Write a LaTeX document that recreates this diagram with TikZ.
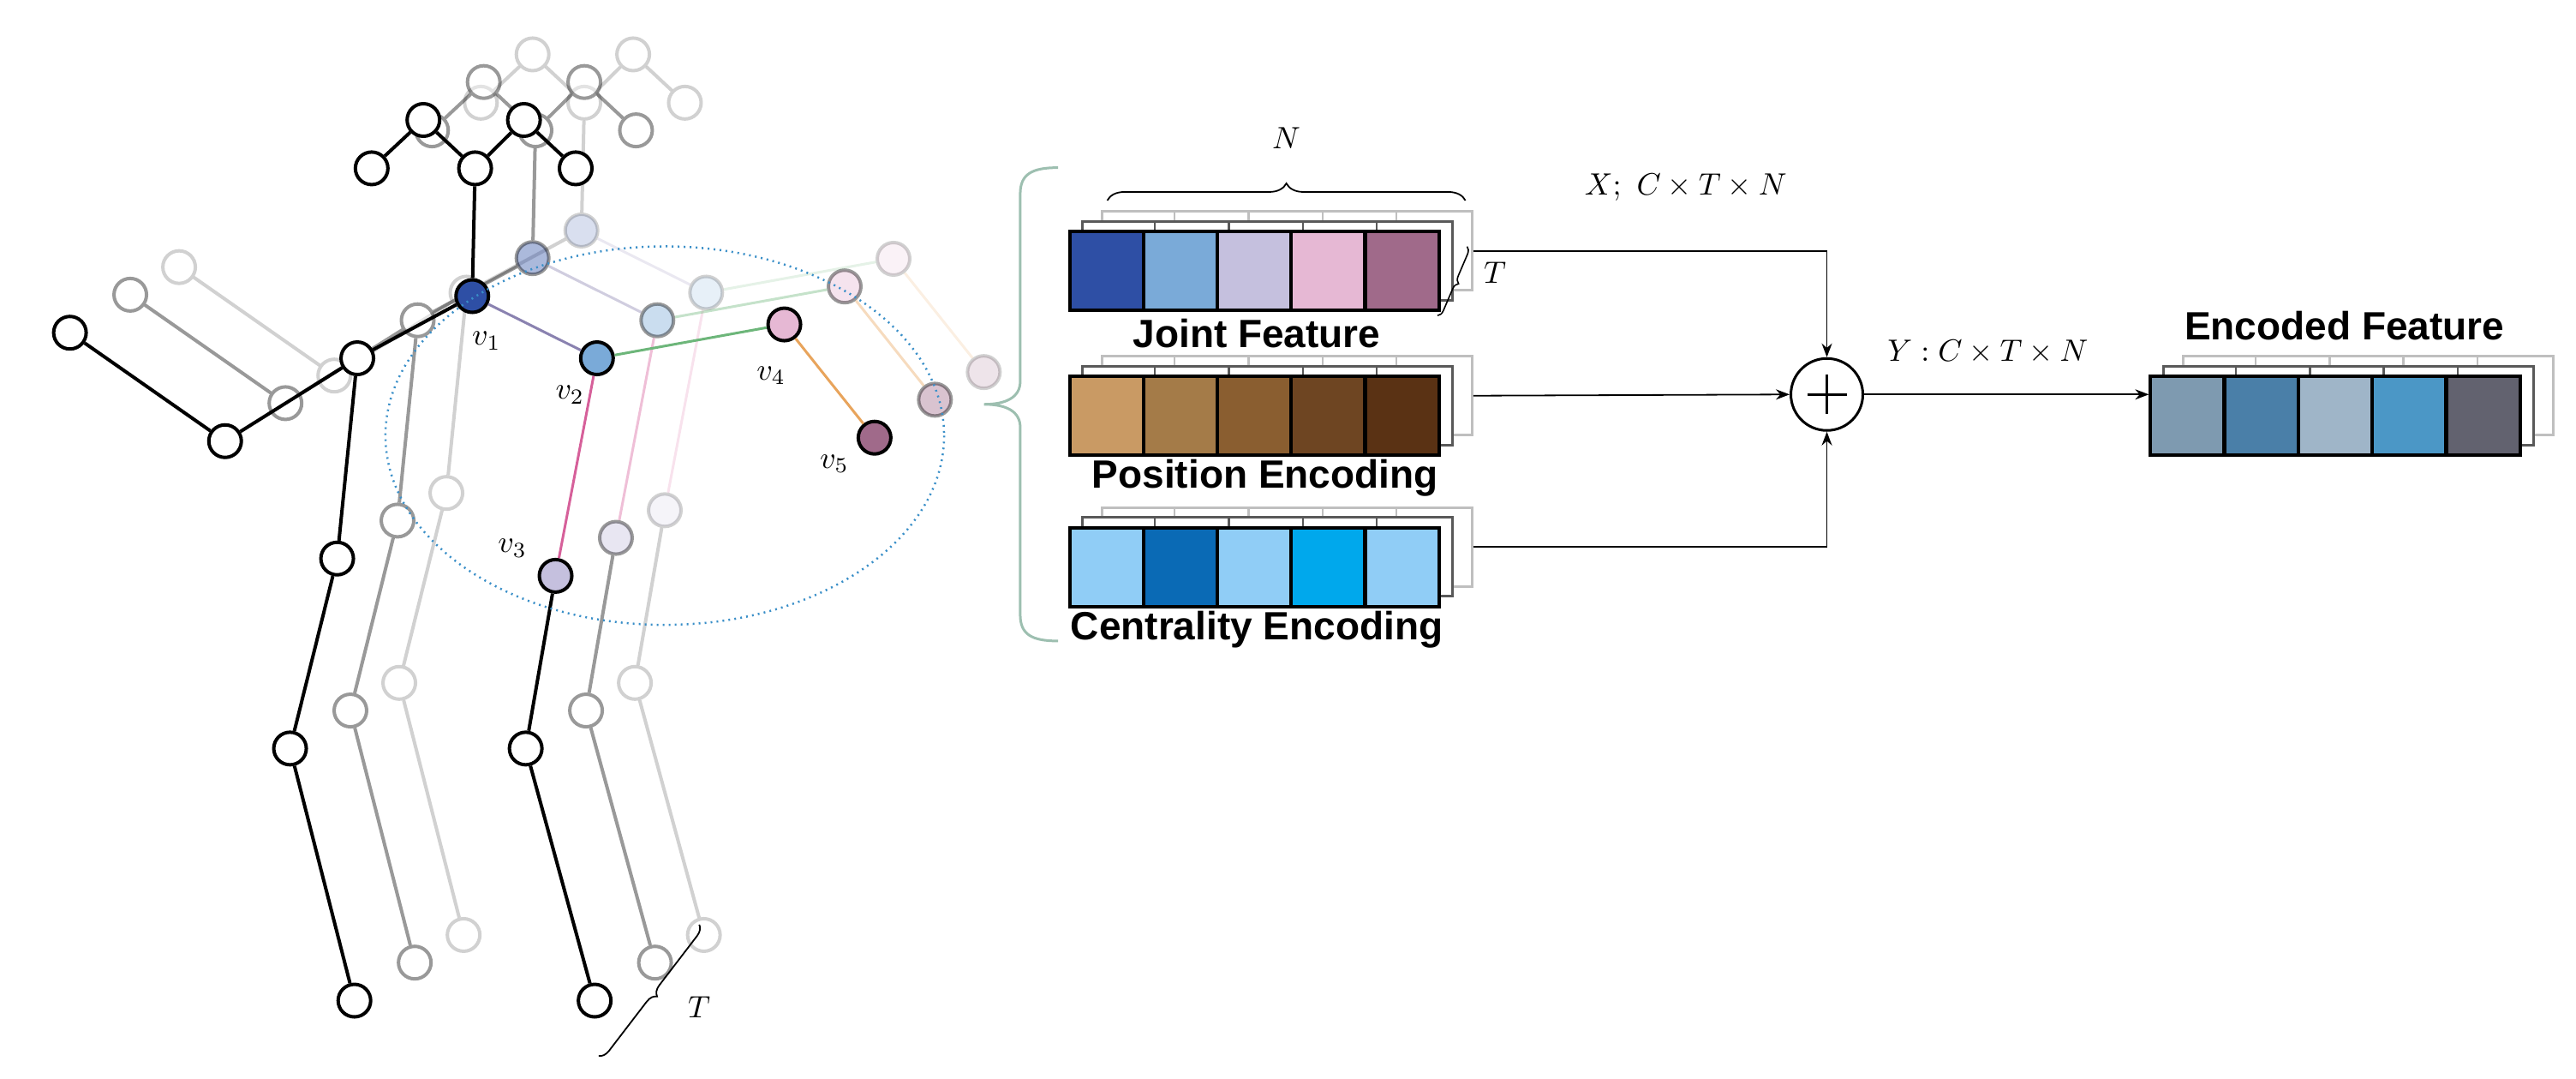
\documentclass[tikz,border=0pt]{standalone}
\usepackage{fontspec}
\newfontfamily\lab{Liberation Sans}
\usetikzlibrary{decorations.pathreplacing,arrows.meta,calc}
\definecolor{jA}{HTML}{2E4FA5}\definecolor{jB}{HTML}{7AAAD8}\definecolor{jC}{HTML}{C5C0DE}\definecolor{jD}{HTML}{E6B8D4}\definecolor{jE}{HTML}{A06A8A}
\definecolor{pA}{HTML}{C99A64}\definecolor{pB}{HTML}{A47B48}\definecolor{pC}{HTML}{8A5E30}\definecolor{pD}{HTML}{6E4522}\definecolor{pE}{HTML}{5A3214}
\definecolor{cA}{HTML}{90CDF6}\definecolor{cB}{HTML}{0A6AB5}\definecolor{cD}{HTML}{00A8EC}
\definecolor{eA}{HTML}{7E9AB0}\definecolor{eB}{HTML}{4A7FA8}\definecolor{eC}{HTML}{9FB5C8}\definecolor{eD}{HTML}{4B97C6}\definecolor{eE}{HTML}{62626F}
\definecolor{ve1}{HTML}{8A82B0}\definecolor{ve2}{HTML}{D6609A}\definecolor{ve3}{HTML}{6DB67A}\definecolor{ve4}{HTML}{E8A45C}
\definecolor{brc}{HTML}{9DBFB0}\definecolor{ell}{HTML}{3A8FC8}
\tikzset{
 jt/.style={circle,draw=black,fill=white,line width=4pt,minimum size=38pt,inner sep=0pt},
 bone/.style={line width=4pt},
 cell/.style={draw=black,line width=4pt,minimum width=86pt,minimum height=92pt,anchor=north west,inner sep=0pt},
 back/.style={draw,fill=white,line width=3pt,minimum width=432pt,minimum height=92pt,anchor=north west,inner sep=0pt},
 lbl/.style={font=\lab\bfseries\fontsize{46}{50}\selectfont},
 mth/.style={scale=3.6},
 conn/.style={line width=1.8pt,-{Stealth[length=16pt,width=12pt]}},
}
\newcommand\myskel[4]{%
\begin{scope}[opacity=#4,shift={(#2,#3)}]
 \node[jt] (#1hl) at (590,240) {}; \node[jt] (#1hua) at (680,170) {};
 \node[jt] (#1nk) at (770,240) {}; \node[jt] (#1hub) at (855,170) {};
 \node[jt] (#1hr) at (945,240) {};
 \node[jt] (#1sh) at (565,515) {}; \node[jt] (#1el) at (335,635) {}; \node[jt] (#1hd) at (65,478) {};
 \node[jt] (#1ka) at (530,805) {}; \node[jt] (#1aa) at (448,1080) {}; \node[jt] (#1fa) at (560,1445) {};
 \node[jt] (#1kb) at (858,1080) {}; \node[jt] (#1fb) at (978,1445) {};
 \node[jt,fill=jA] (#1va) at (765,425) {}; \node[jt,fill=jB] (#1vb) at (982,515) {};
 \node[jt,fill=jC] (#1vc) at (910,830) {}; \node[jt,fill=jD] (#1vd) at (1308,466) {};
 \node[jt,fill=jE] (#1ve) at (1465,630) {};
 \draw[bone] (#1hl)--(#1hua)--(#1nk)--(#1hub)--(#1hr) (#1nk)--(#1va)--(#1sh)--(#1el)--(#1hd)
   (#1sh)--(#1ka)--(#1aa)--(#1fa) (#1vc)--(#1kb)--(#1fb);
 \draw[line width=3pt,ve1] (#1va)--(#1vb);
 \draw[line width=3pt,ve2] (#1vb)--(#1vc);
 \draw[line width=3pt,ve3] (#1vb)--(#1vd);
 \draw[line width=3pt,ve4] (#1vd)--(#1ve);
\end{scope}}
\newcommand\featrow[4]{% prefix, x, y, colors
 \node[back,draw=black!25] (#1bk) at (#2+20,#3-12) {};
 \foreach \k in {1,...,4}{\draw[black!25,line width=2.5pt] (#2+20+45*\k,#3-12) -- ++(0,6);}
 \node[back,draw=black!65] (#1md) at (#2+8,#3-6) {};
 \foreach \k in {1,...,4}{\draw[black!65,line width=2.5pt] (#2+8+45*\k,#3-6) -- ++(0,6);}
 \foreach \c [count=\i] in {#4}{\node[cell,fill=\c] (#1c\i) at ({#2+45*(\i-1)},#3) {};}
}
\begin{document}
\begin{tikzpicture}[x=1.918pt,y=-1.918pt]
\useasboundingbox (0,0) rectangle (1568,656);
% skeleton
\begin{scope}[shift={(38pt,-3pt)},x=0.671pt,y=-0.806pt]
 \myskel{g}{190}{-95}{0.18}
 \myskel{f}{105}{-55}{0.4}
 \myskel{}{0}{0}{1}
 \draw[ell,line width=2.5pt,dash pattern=on 2pt off 5pt] (1100,627) ellipse [x radius=486,y radius=274];
 \node[mth] (l1) at (790,490) {$v_1$};
 \node[mth] (l2) at (935,568) {$v_2$};
 \node[mth] (l3) at (835,790) {$v_3$};
 \node[mth] (l4) at (1285,540) {$v_4$};
 \node[mth] (l5) at (1395,668) {$v_5$};
 \draw[line width=1.8pt,decorate,decoration={brace,amplitude=12pt}] (1160,1335) -- (985,1525);
 \node[mth] (tt) at (1160,1455) {$T$};
\end{scope}
% big brace
\draw[brc,line width=3pt] (644,102) .. controls (628,102) and (621,106) .. (621,118) -- (621,232)
  .. controls (621,242) and (612,246) .. (599,246) .. controls (612,246) and (621,250) .. (621,260)
  -- (621,374) .. controls (621,386) and (628,390) .. (644,390);
% rows
\featrow{j}{650}{140}{jA,jB,jC,jD,jE}
\featrow{p}{650}{228}{pA,pB,pC,pD,pE}
\featrow{c}{650}{320}{cA,cB,cA,cD,cA}
\node[lbl] (jl) at (765,203) {Joint Feature};
\node[lbl] (pl) at (770,291) {Position Encoding};
\node[lbl] (cl) at (765,383) {Centrality Encoding};
\draw[line width=1.8pt,decorate,decoration={brace,amplitude=20pt}] (674,122) -- (892,122);
\node[mth] (nn) at (783,84) {$N$};
\draw[line width=1.6pt,decorate,decoration={brace,amplitude=8pt}] (893,150) -- (875,192);
\node[mth] (tt2) at (910,166) {$T$};
\node[mth,anchor=west] (xl) at (958,114) {$X;\ C\times T\times N$};
% sum
\node[circle,draw,line width=3pt,minimum size=84pt,inner sep=0pt] (sum) at (1112,240) {};
\draw[line width=3pt] ($(sum)+(-12,0)$) -- ($(sum)+(12,0)$) ($(sum)+(0,-12)$) -- ($(sum)+(0,12)$);
\draw[conn] (jbk.east) -| (sum.north);
\draw[conn] (pbk.east) -- (sum.west);
\draw[conn] (cbk.east) -| (sum.south);
% encoded
\featrow{e}{1308}{228}{eA,eB,eC,eD,eE}
\node[lbl] (el) at (1427,198) {Encoded Feature};
\node[mth] (yl) at (1210,214) {$Y: C\times T\times N$};
\draw[conn] (sum.east) -- (sum -| ec1.west);
\end{tikzpicture}
\end{document}
